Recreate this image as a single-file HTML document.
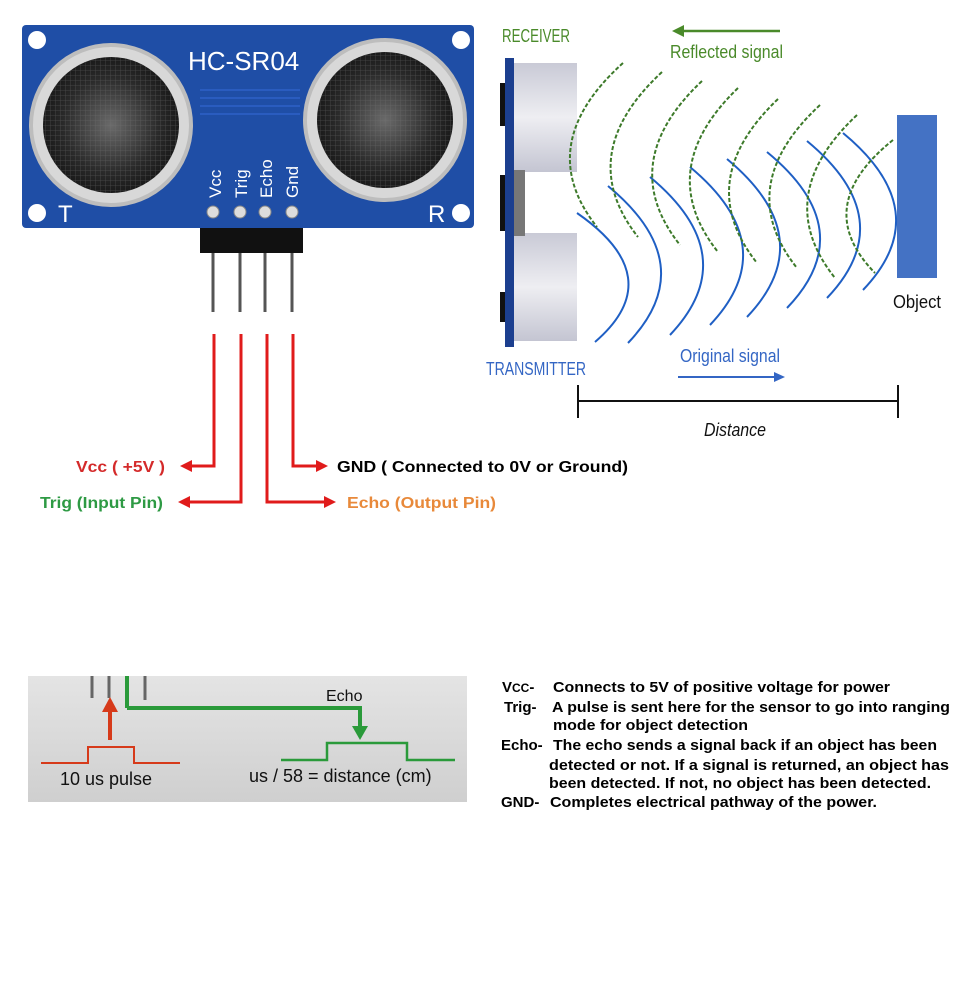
<!DOCTYPE html>
<html><head><meta charset="utf-8"><style>
html,body{margin:0;padding:0;background:#fff;}
svg{display:block;}
text{font-family:"Liberation Sans",Arial,sans-serif;}
</style></head><body>
<svg width="960" height="1006" viewBox="0 0 960 1006" xmlns="http://www.w3.org/2000/svg">
<defs>
<radialGradient id="mesh" cx="50%" cy="50%" r="50%"><stop offset="0" stop-color="#6a6a6a"/><stop offset="0.7" stop-color="#2a2a2a"/><stop offset="1" stop-color="#1a1a1a"/></radialGradient>
<pattern id="grid" width="5" height="5" patternUnits="userSpaceOnUse"><path d="M0 0H5M0 0V5" stroke="#777" stroke-width="0.8" fill="none"/></pattern>
<linearGradient id="cyl" x1="0" y1="0" x2="0" y2="1"><stop offset="0" stop-color="#c9cad6"/><stop offset="0.5" stop-color="#eeeef2"/><stop offset="1" stop-color="#c4c5d2"/></linearGradient>
<linearGradient id="bg2" x1="0" y1="0" x2="0" y2="1"><stop offset="0" stop-color="#e4e4e4"/><stop offset="1" stop-color="#cfcfcf"/></linearGradient>
</defs>

<g>
<rect x="22" y="25" width="452" height="203" rx="4" fill="#1f4ea6"/>
<circle cx="37" cy="40" r="9" fill="#fff"/><circle cx="461" cy="40" r="9" fill="#fff"/>
<circle cx="37" cy="213" r="9" fill="#fff"/><circle cx="461" cy="213" r="9" fill="#fff"/>
<g stroke="#2a5cbf" stroke-width="2"><line x1="200" y1="90" x2="300" y2="90"/><line x1="200" y1="98" x2="300" y2="98"/><line x1="200" y1="106" x2="300" y2="106"/><line x1="200" y1="114" x2="300" y2="114"/></g>
<g>
<circle cx="111" cy="125" r="80" fill="#d8d8d8" stroke="#bdbdbd" stroke-width="4"/>
<circle cx="111" cy="125" r="68" fill="url(#mesh)"/>
<circle cx="111" cy="125" r="68" fill="url(#grid)" opacity="0.5"/>
</g>
<g>
<circle cx="385" cy="120" r="80" fill="#d8d8d8" stroke="#bdbdbd" stroke-width="4"/>
<circle cx="385" cy="120" r="68" fill="url(#mesh)"/>
<circle cx="385" cy="120" r="68" fill="url(#grid)" opacity="0.5"/>
</g>
<text x="188" y="70" font-size="26" fill="#fff">HC-SR04</text>
<text x="58" y="222" font-size="24" fill="#fff">T</text>
<text x="428" y="222" font-size="24" fill="#fff">R</text>
<g font-family="Liberation Mono,monospace" font-size="17" fill="#fff">
<text transform="translate(221,198) rotate(-90)">Vcc</text>
<text transform="translate(247,198) rotate(-90)">Trig</text>
<text transform="translate(272,198) rotate(-90)">Echo</text>
<text transform="translate(298,198) rotate(-90)">Gnd</text>
</g>
<g fill="#ddd" stroke="#888"><circle cx="213" cy="212" r="6"/><circle cx="240" cy="212" r="6"/><circle cx="265" cy="212" r="6"/><circle cx="292" cy="212" r="6"/></g>
</g>
<g>
<rect x="200" y="228" width="103" height="25" fill="#111"/>
<g stroke="#555" stroke-width="3"><line x1="213" y1="253" x2="213" y2="312"/><line x1="240" y1="253" x2="240" y2="312"/><line x1="265" y1="253" x2="265" y2="312"/><line x1="292" y1="253" x2="292" y2="312"/></g>
</g>

<g stroke="#e01b1b" stroke-width="3" fill="none">
<polyline points="214,334 214,466 190,466"/>
<polyline points="241,334 241,502 186,502"/>
<polyline points="267,334 267,502 326,502"/>
<polyline points="293,334 293,466 318,466"/>
</g>
<g fill="#e01b1b">
<polygon points="180,466 192,460 192,472"/>
<polygon points="178,502 190,496 190,508"/>
<polygon points="336,502 324,496 324,508"/>
<polygon points="328,466 316,460 316,472"/>
</g>
<g font-weight="bold" font-size="16">
<text x="76" y="472" fill="#d42a2a" textLength="89" lengthAdjust="spacingAndGlyphs">Vcc ( +5V )</text>
<text x="40" y="508" fill="#2e9a44" textLength="123" lengthAdjust="spacingAndGlyphs">Trig (Input Pin)</text>
<text x="337" y="472" fill="#000" textLength="291" lengthAdjust="spacingAndGlyphs">GND ( Connected to 0V or Ground)</text>
<text x="347" y="508" fill="#e8893a" textLength="149" lengthAdjust="spacingAndGlyphs">Echo (Output Pin)</text>
</g>

<g>
<rect x="500" y="83" width="5" height="43" fill="#111"/><rect x="500" y="175" width="5" height="56" fill="#111"/><rect x="500" y="292" width="5" height="30" fill="#111"/>
<rect x="505" y="58" width="9" height="289" fill="#1c3f8f"/>
<rect x="514" y="63" width="63" height="109" fill="url(#cyl)"/>
<rect x="514" y="233" width="63" height="108" fill="url(#cyl)"/>
<rect x="514" y="170" width="11" height="66" fill="#777"/>
<text x="502" y="42" font-size="18" fill="#4a8a2a" textLength="68" lengthAdjust="spacingAndGlyphs">RECEIVER</text>
<text x="486" y="375" font-size="18" fill="#3466c4" textLength="100" lengthAdjust="spacingAndGlyphs">TRANSMITTER</text>
<text x="670" y="58" font-size="18" fill="#4a8a2a" textLength="113" lengthAdjust="spacingAndGlyphs">Reflected signal</text>
<line x1="682" y1="31" x2="780" y2="31" stroke="#4a8a2a" stroke-width="2.5"/>
<polygon points="672,31 684,25 684,37" fill="#4a8a2a"/>
<text x="680" y="362" font-size="18" fill="#3466c4" textLength="100" lengthAdjust="spacingAndGlyphs">Original signal</text>
<line x1="678" y1="377" x2="776" y2="377" stroke="#3466c4" stroke-width="2"/>
<polygon points="785,377 774,372 774,382" fill="#3466c4"/>
<rect x="897" y="115" width="40" height="163" fill="#4472c4"/>
<text x="893" y="308" font-size="18" fill="#111" textLength="48" lengthAdjust="spacingAndGlyphs">Object</text>
<g stroke="#111" stroke-width="2"><line x1="578" y1="401" x2="898" y2="401"/><line x1="578" y1="385" x2="578" y2="418"/><line x1="898" y1="385" x2="898" y2="418"/></g>
<text x="704" y="436" font-size="18" font-style="italic" fill="#111" textLength="62" lengthAdjust="spacingAndGlyphs">Distance</text>
<g id="waves"></g>
</g>

<g>
<rect x="28" y="676" width="439" height="126" fill="url(#bg2)"/>
<g stroke="#666" stroke-width="3"><line x1="92" y1="676" x2="92" y2="698"/><line x1="109" y1="676" x2="109" y2="698"/><line x1="145" y1="676" x2="145" y2="700"/></g>
<line x1="127" y1="676" x2="127" y2="708" stroke="#2a9a3a" stroke-width="4"/>
<polyline points="127,708 360,708 360,728" fill="none" stroke="#2a9a3a" stroke-width="4"/>
<polygon points="352,726 368,726 360,740" fill="#2a9a3a"/>
<line x1="110" y1="740" x2="110" y2="710" stroke="#d63a1a" stroke-width="4"/>
<polygon points="102,712 118,712 110,697" fill="#d63a1a"/>
<polyline points="41,763 88,763 88,747 134,747 134,763 180,763" fill="none" stroke="#d63a1a" stroke-width="2"/>
<polyline points="281,760 327,760 327,743 407,743 407,760 455,760" fill="none" stroke="#2a9a3a" stroke-width="2.5"/>
<text x="60" y="785" font-size="18" fill="#111">10 us pulse</text>
<text x="249" y="782" font-size="18" fill="#111">us / 58 = distance (cm)</text>
<text x="326" y="701" font-size="16" fill="#111">Echo</text>
</g>

<g font-weight="bold" font-size="15" fill="#000">
<text x="502" y="692">V<tspan font-size="12">CC</tspan>-</text>
<text x="553" y="692" textLength="337" lengthAdjust="spacingAndGlyphs">Connects to 5V of positive voltage for power</text>
<text x="504" y="712">Trig-</text>
<text x="552" y="712" textLength="398" lengthAdjust="spacingAndGlyphs">A pulse is sent here for the sensor to go into ranging</text>
<text x="553" y="730" textLength="195" lengthAdjust="spacingAndGlyphs">mode for object detection</text>
<text x="501" y="750">Echo-</text>
<text x="553" y="750" textLength="384" lengthAdjust="spacingAndGlyphs">The echo sends a signal back if an object has been</text>
<text x="549" y="770" textLength="400" lengthAdjust="spacingAndGlyphs">detected or not. If a signal is returned, an object has</text>
<text x="549" y="788" textLength="382" lengthAdjust="spacingAndGlyphs">been detected. If not, no object has been detected.</text>
<text x="501" y="807">GND-</text>
<text x="550" y="807" textLength="327" lengthAdjust="spacingAndGlyphs">Completes electrical pathway of the power.</text>
</g>
</svg>
<script>
const blueStartX=[577,608,650,690,727,767,807,843];
const blueStartY=[213,186,177,167,159,152,141,133];
const blueEndX=[595,628,670,710,747,787,827,863];
const blueEndY=[342,343,335,325,317,308,298,290];
const greenTopX=[623,662,702,738,778,820,857,893];
const greenTopY=[63,72,81,88,99,105,115,140];
const greenBotX=[597,638,680,718,757,797,835,875];
const greenBotY=[227,237,245,252,263,268,278,273];
const g=document.getElementById('waves');
const NS='http://www.w3.org/2000/svg';
for(let i=0;i<blueStartX.length;i++){
  const p=document.createElementNS(NS,'path');
  const cx=Math.max(blueStartX[i],blueEndX[i])+75,cy=(blueStartY[i]+blueEndY[i])/2;
  p.setAttribute('d',`M${blueStartX[i]},${blueStartY[i]} Q${cx},${cy} ${blueEndX[i]},${blueEndY[i]}`);
  p.setAttribute('fill','none');p.setAttribute('stroke','#1f5fc4');p.setAttribute('stroke-width','2');
  
  
  g.appendChild(p);
}
for(let i=0;i<greenTopX.length;i++){
  const p=document.createElementNS(NS,'path');
  const cx=Math.min(greenTopX[i],greenBotX[i])-65,cy=(greenTopY[i]+greenBotY[i])/2;
  p.setAttribute('d',`M${greenTopX[i]},${greenTopY[i]} Q${cx},${cy} ${greenBotX[i]},${greenBotY[i]}`);
  p.setAttribute('fill','none');p.setAttribute('stroke','#3d7a2a');p.setAttribute('stroke-width','2');p.setAttribute('stroke-dasharray','4,2');
  
  
  g.appendChild(p);
}
</script>
</body></html>
